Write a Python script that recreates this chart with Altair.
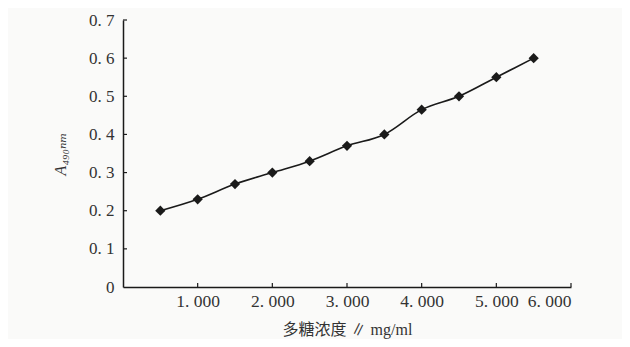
import altair as alt
import pandas as pd

conc = [0.5, 1.0, 1.5, 2.0, 2.5, 3.0, 3.5, 4.0, 4.5, 5.0, 5.5]
absorb = [0.20, 0.23, 0.27, 0.30, 0.33, 0.37, 0.40, 0.465, 0.50, 0.55, 0.60]
x_ticks = [1, 2, 3, 4, 5, 6]
y_ticks = [0, 0.1, 0.2, 0.3, 0.4, 0.5, 0.6, 0.7]
x_title = "多糖浓度 ∥ mg/ml"
y_title = "A₄₉₀ₙₘ"

df = pd.DataFrame({"c": conc, "a": absorb})
xt = pd.DataFrame({"t": x_ticks})
yt = pd.DataFrame({"t": y_ticks[1:]})

xs = alt.Scale(domain=[0, 6], nice=False, zero=True)
ys = alt.Scale(domain=[0, 0.7], nice=False)

serif = "Liberation Serif, Noto Sans CJK SC"
ink = "#1a1a1a"

x_axis = alt.Axis(
    values=x_ticks,
    labelExpr="replace(format(datum.value, '.3f'), '.', '. ')",
    title=x_title, grid=False, ticks=False, labelOverlap=False,
    domainColor=ink, domainWidth=1.5,
    labelFont=serif, labelFontSize=17.5, labelColor="#333", labelPadding=5,
    titleFont=serif, titleFontSize=16, titleFontWeight="normal", titleColor="#333",
    titlePadding=12,
)
y_axis = alt.Axis(
    values=y_ticks,
    labelExpr="datum.value == 0 ? '0' : replace(format(datum.value, '.1f'), '.', '. ')",
    title=y_title, grid=False, ticks=False, labelOverlap=False,
    domainColor=ink, domainWidth=1.5,
    labelFont=serif, labelFontSize=17, labelColor="#333", labelPadding=9,
    titleFont="Liberation Serif, DejaVu Serif", titleFontSize=16, titleFontStyle="italic",
    titleFontWeight="normal", titleColor="#333", titlePadding=20,
)

line = alt.Chart(df).mark_line(color=ink, strokeWidth=1.6, interpolate="monotone").encode(
    x=alt.X("c:Q", scale=xs, axis=x_axis),
    y=alt.Y("a:Q", scale=ys, axis=y_axis),
)

points = alt.Chart(df).mark_point(shape="diamond", filled=True, color=ink, size=105, opacity=1).encode(
    x=alt.X("c:Q", scale=xs, axis=x_axis),
    y=alt.Y("a:Q", scale=ys, axis=y_axis),
)

xtick = alt.Chart(xt).mark_rule(color=ink, strokeWidth=1.2).encode(
    x=alt.X("t:Q", scale=xs, axis=x_axis),
    y=alt.value(267),
    y2=alt.value(263),
)

ytick = alt.Chart(yt).mark_rule(color=ink, strokeWidth=1.2).encode(
    y=alt.Y("t:Q", scale=ys, axis=y_axis),
    x=alt.value(0),
    x2=alt.value(4),
)

chart = alt.layer(line, points, xtick, ytick).properties(
    width=448, height=267,
    autosize=alt.AutoSizeParams(type="none"),
    padding={"left": 115, "top": 12, "right": 51, "bottom": 52},
    background="#fafaf9",
).configure_view(stroke=None).configure_axis(labelOverlap=False)

chart.save("out.html", embed_options={"renderer": "svg", "actions": False})
